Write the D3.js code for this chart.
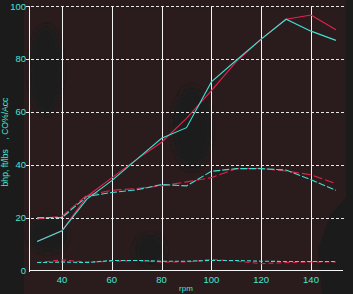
<!DOCTYPE html>
<html>
<head>
<meta charset="utf-8">
<script src="https://cdn.jsdelivr.net/npm/d3@7"></script>
<style>
    html, body { margin: 0; padding: 0; background: #1b1b1b; }
    svg { display: block; }
    text { font-family: "Liberation Sans", Arial, sans-serif; fill: #45e6d8; }
</style>
</head>
<body>
<svg id="chart" width="353" height="294"></svg>
<script>
/*jslint browser: true */

// rpm steps shared by every run
var rpm = [30, 40, 50, 60, 70, 80, 90, 100, 110, 120, 130, 140, 150];

// power (bhp), two runs
var bhpCyan = [11, 15, 27, 34, 42, 50, 54, 71.3, 79.5, 87.5, 95, 90.5, 87];
var bhpRed = [11, 15, 28, 35, 42, 48.5, 57.5, 68, 79, 87.5, 95, 96.6, 91];

// torque (ft/lbs), two runs
var torqueCyan = [20, 20, 28, 29.5, 30.5, 32.5, 32, 37.5, 38.5, 38.5, 38, 34.3, 30.3];
var torqueRed = [19.5, 20.5, 28.5, 30.3, 31, 32, 33.5, 35.1, 38.5, 38.6, 37.6, 36.2, 32.8];

// CO%/Acc, two runs
var coCyan = [3, 3.2, 3, 3.8, 3.8, 3.5, 3.5, 3.8, 3.8, 3.5, 3.4, 3.4, 3.4];
var coRed = [3, 4, 3.2, 3.5, 3.8, 3.2, 3.2, 4.2, 3.5, 2.6, 3, 3.2, 3.2];

var xTicks = [40, 60, 80, 100, 120, 140];
var yTicks = [0, 20, 40, 60, 80, 100];

(function (d3) {
    "use strict";

    var svg = d3.select("#chart"),
        x = d3.scaleLinear().domain([26.75, 152.85]).range([29, 343]),
        y = d3.scaleLinear().domain([0, 100]).range([270.5, 6]),
        cyan = "#3fe0d2",
        red = "#e8204e",
        bg,
        blur;

    // background: brown wash with darker patches
    blur = svg.append("defs").append("filter").attr("id", "soft")
        .attr("x", "-50%").attr("y", "-50%").attr("width", "200%").attr("height", "200%");
    blur.append("feGaussianBlur").attr("stdDeviation", 2);

    bg = svg.append("g");
    bg.append("rect").attr("width", 353).attr("height", 294).attr("fill", "#1b1b1b");
    bg.append("rect").attr("x", 24).attr("y", 0).attr("width", 322).attr("height", 294)
        .attr("fill", "#2a1c1c");
    bg.append("g").attr("filter", "url(#soft)").attr("fill", "#1c1b1b")
        .selectAll("ellipse")
        .data([[46, 70, 17, 45], [192, 128, 20, 42], [48, 235, 20, 18], [150, 250, 16, 16]])
        .join("ellipse")
        .attr("cx", function (d) { return d[0]; })
        .attr("cy", function (d) { return d[1]; })
        .attr("rx", function (d) { return d[2]; })
        .attr("ry", function (d) { return d[3]; });
    bg.append("path").attr("fill", "#1b1b1b")
        .attr("d", "M353,190 L330,215 L318,250 L322,294 L353,294 Z");

    // horizontal dashed grid
    svg.append("g").selectAll("line")
        .data(yTicks.slice(1))
        .join("line")
        .attr("x1", 26).attr("x2", 345)
        .attr("y1", function (d) { return Math.round(y(d)) + 0.5; })
        .attr("y2", function (d) { return Math.round(y(d)) + 0.5; })
        .attr("stroke", "#e8e8e8")
        .attr("stroke-dasharray", "3,2")
        .attr("shape-rendering", "crispEdges");

    // vertical solid grid
    svg.append("g").selectAll("line")
        .data(xTicks)
        .join("line")
        .attr("x1", function (d) { return Math.round(x(d)) + 0.5; })
        .attr("x2", function (d) { return Math.round(x(d)) + 0.5; })
        .attr("y1", y(100)).attr("y2", y(0))
        .attr("stroke", "#f4f4f4")
        .attr("shape-rendering", "crispEdges");

    // axes lines
    svg.append("line").attr("x1", 29.5).attr("x2", 29.5).attr("y1", y(100)).attr("y2", y(0) + 1)
        .attr("stroke", "#f4f4f4").attr("shape-rendering", "crispEdges");
    svg.append("line").attr("x1", 29).attr("x2", 343).attr("y1", 270.5).attr("y2", 270.5)
        .attr("stroke", "#f4f4f4").attr("shape-rendering", "crispEdges");

    // tick labels
    svg.append("g").selectAll("text")
        .data(yTicks)
        .join("text")
        .attr("x", 26)
        .attr("y", function (d) { return y(d) + 3.5; })
        .attr("text-anchor", "end")
        .attr("font-size", "9.5px")
        .text(String);

    svg.append("g").selectAll("text")
        .data(xTicks)
        .join("text")
        .attr("x", function (d) { return x(d); })
        .attr("y", 283)
        .attr("text-anchor", "middle")
        .attr("font-size", "9.5px")
        .text(String);

    svg.append("text")
        .attr("x", 186).attr("y", 290.5)
        .attr("text-anchor", "middle")
        .attr("font-size", "8px")
        .text("rpm");

    svg.append("text")
        .attr("transform", "translate(7.5,142) rotate(-90)")
        .attr("text-anchor", "middle")
        .attr("font-size", "8.6px")
        .style("white-space", "pre")
        .text("bhp, ft/lbs    , CO%/Acc");

    // data lines
    function drawLine(values, colour, dash) {
        var line = d3.line()
            .x(function (d, i) { return x(rpm[i]); })
            .y(function (d) { return y(d); });
        svg.append("path")
            .datum(values)
            .attr("d", line)
            .attr("fill", "none")
            .attr("stroke", colour)
            .attr("stroke-width", 1.1)
            .attr("stroke-dasharray", dash || null);
    }

    drawLine(coRed, red, "5,3");
    drawLine(coCyan, cyan, "4,2");
    drawLine(torqueRed, red, "9,3");
    drawLine(torqueCyan, cyan, "7,2");
    drawLine(bhpRed, red);
    drawLine(bhpCyan, cyan);

}(window.d3));
</script>
</body>
</html>
